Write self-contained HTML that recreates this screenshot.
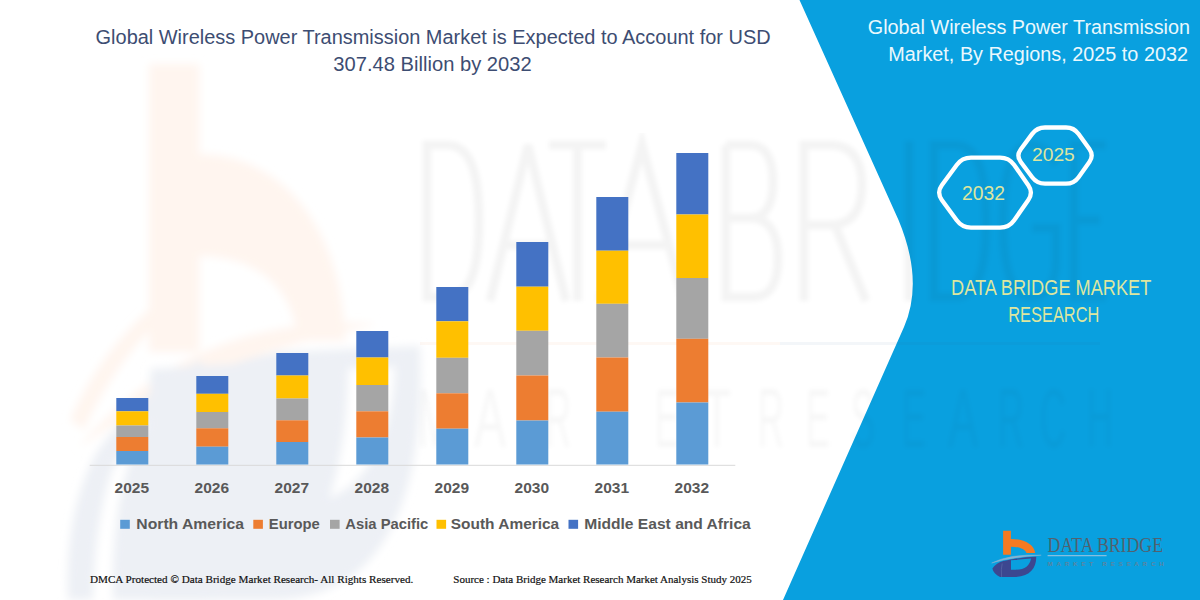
<!DOCTYPE html>
<html><head><meta charset="utf-8">
<style>
html,body{margin:0;padding:0;width:1200px;height:600px;overflow:hidden;background:#fff;}
svg{display:block;}
text{font-family:"Liberation Sans",sans-serif;}
.ser{font-family:"Liberation Serif",serif;}
</style></head><body>
<svg width="1200" height="600" viewBox="0 0 1200 600">
<rect x="0" y="0" width="1200" height="600" fill="#ffffff"/>
<!-- watermark placeholder -->
<g id="wm"><defs><filter id="bl" x="-20%" y="-20%" width="140%" height="140%"><feGaussianBlur stdDeviation="4"/></filter><filter id="bl2" x="-5%" y="-5%" width="110%" height="110%"><feGaussianBlur stdDeviation="2.2"/></filter></defs>
<g filter="url(#bl)"><g transform="matrix(6.0 0 0 11.3 -5867.8 -5930.7)">
<path d="M1002.8 530.5 H1011.2 V538.5 C1025 538.5 1035 545 1035.5 555 L1027.5 555 C1027 550 1020 547.5 1011.2 547.5 V556 H1002.8 Z" fill="#FFF5EF"/>
<path d="M991 564.5 Q1010 552.5 1041 553.5 Q1012 556.5 991 564.5 Z" fill="#FFF5EF"/>
<path fill-rule="evenodd" fill="#EDF0F5" d="M1003 557.5 L1036 556.5 C1036 570 1028 578 1012 578 L1003 578 Z"/>
</g>
<path fill-rule="evenodd" fill="#EDF0F5" d="M113 600 Q110 480 150 420 Q200 365 280 352 L420 346 C425 470 400 600 270 600 Z M238 372 L395 367 C393 440 365 500 300 505 C260 505 238 490 238 470 Z"/>
<path fill="#EDF0F5" d="M68 600 Q64 515 95 455 Q130 400 200 360 L206 372 Q140 420 112 470 Q95 520 93 600 Z"/>
<path fill="#FFF5EF" d="M70 420 Q100 350 160 300 L172 308 Q115 360 84 430 Z"/>
<g></g></g>
</g>
<!-- blue panel -->
<path d="M799.5 0 L1200 0 L1200 600 L783 600 L904 327 Q924 281 898.5 220 Z" fill="#09A0DF"/>
<g fill="none" stroke="#000" stroke-opacity="0.045" stroke-width="9" stroke-linejoin="miter" filter="url(#bl2)">
<path d="M427 145 V297 H447 C472 297 479 265 479 221 C479 177 472 145 447 145 Z"/>
<path d="M490 301 L528 145 L566 301 M503 245 H553"/>
<path d="M549 145 H606 M577.5 145 V301"/>
<path d="M600 301 L642 145 L684 301 M614 245 H670"/>
<path d="M726 145 V297 H752 C770 297 778 285 778 258 C778 232 768 218 750 218 H726 M750 218 C765 218 773 205 773 182 C773 158 765 145 750 145 H726"/>
<path d="M804 301 V145 H830 C852 145 862 160 862 185 C862 210 852 225 830 225 H804 M835 225 L866 301"/>
<path d="M909 141 V301"/>
<path d="M934 145 V297 H955 C980 297 986 265 986 221 C986 177 980 145 955 145 Z"/>
<path d="M1056 165 C1050 150 1040 145 1030 145 C1010 145 1003 180 1003 221 C1003 262 1010 297 1030 297 C1045 297 1056 285 1056 260 V228 H1032"/>
<path d="M1106 145 H1074 V297 H1106 M1074 220 H1100"/>
</g>
<line x1="420" y1="343.5" x2="780" y2="343.5" stroke="#F7A060" stroke-opacity="0.07" stroke-width="3"/>
<line x1="780" y1="343.5" x2="1100" y2="343.5" stroke="#3060A0" stroke-opacity="0.06" stroke-width="3"/>
<g font-size="84" fill="#000" fill-opacity="0.03" filter="url(#bl2)">
<text x="418" y="447" textLength="34" lengthAdjust="spacingAndGlyphs">M</text>
<text x="474" y="447" textLength="32" lengthAdjust="spacingAndGlyphs">A</text>
<text x="545" y="447" textLength="26" lengthAdjust="spacingAndGlyphs">R</text>
<text x="600" y="447" textLength="28" lengthAdjust="spacingAndGlyphs">K</text>
<text x="655" y="447" textLength="24" lengthAdjust="spacingAndGlyphs">E</text>
<text x="703" y="447" textLength="28" lengthAdjust="spacingAndGlyphs">T</text>
<text x="758" y="447" textLength="26" lengthAdjust="spacingAndGlyphs">R</text>
<text x="806" y="447" textLength="24" lengthAdjust="spacingAndGlyphs">E</text>
<text x="851" y="447" textLength="24" lengthAdjust="spacingAndGlyphs">S</text>
<text x="902" y="447" textLength="24" lengthAdjust="spacingAndGlyphs">E</text>
<text x="948" y="447" textLength="30" lengthAdjust="spacingAndGlyphs">A</text>
<text x="998" y="447" textLength="26" lengthAdjust="spacingAndGlyphs">R</text>
<text x="1040" y="447" textLength="26" lengthAdjust="spacingAndGlyphs">C</text>
<text x="1087" y="447" textLength="26" lengthAdjust="spacingAndGlyphs">H</text>
</g>
<!-- title -->
<text x="95.6" y="43.6" font-size="20" fill="#3D4D72" textLength="675" lengthAdjust="spacingAndGlyphs">Global Wireless Power Transmission Market is Expected to Account for USD</text>
<text x="333.3" y="70.8" font-size="20.5" fill="#3D4D72" textLength="198.4" lengthAdjust="spacingAndGlyphs">307.48 Billion by 2032</text>
<!-- axis -->
<line x1="89.7" y1="465.3" x2="735.3" y2="465.3" stroke="#D9D9D9" stroke-width="1"/>
<g id="bars">
<rect x="116.3" y="398" width="32" height="13.3" fill="#4472C4"/>
<rect x="116.3" y="411.3" width="32" height="14.2" fill="#FFC000"/>
<rect x="116.3" y="425.5" width="32" height="11.5" fill="#A5A5A5"/>
<rect x="116.3" y="437" width="32" height="14.0" fill="#ED7D31"/>
<rect x="116.3" y="451" width="32" height="13.5" fill="#5B9BD5"/>
<rect x="196.3" y="376" width="32" height="17.8" fill="#4472C4"/>
<rect x="196.3" y="393.8" width="32" height="18.2" fill="#FFC000"/>
<rect x="196.3" y="412" width="32" height="16.3" fill="#A5A5A5"/>
<rect x="196.3" y="428.3" width="32" height="18.4" fill="#ED7D31"/>
<rect x="196.3" y="446.7" width="32" height="17.8" fill="#5B9BD5"/>
<rect x="276.3" y="353" width="32" height="22.5" fill="#4472C4"/>
<rect x="276.3" y="375.5" width="32" height="23.0" fill="#FFC000"/>
<rect x="276.3" y="398.5" width="32" height="21.8" fill="#A5A5A5"/>
<rect x="276.3" y="420.3" width="32" height="21.7" fill="#ED7D31"/>
<rect x="276.3" y="442" width="32" height="22.5" fill="#5B9BD5"/>
<rect x="356.3" y="331" width="32" height="26.5" fill="#4472C4"/>
<rect x="356.3" y="357.5" width="32" height="27.5" fill="#FFC000"/>
<rect x="356.3" y="385" width="32" height="26.3" fill="#A5A5A5"/>
<rect x="356.3" y="411.3" width="32" height="26.2" fill="#ED7D31"/>
<rect x="356.3" y="437.5" width="32" height="27.0" fill="#5B9BD5"/>
<rect x="436.3" y="287" width="32" height="34.3" fill="#4472C4"/>
<rect x="436.3" y="321.3" width="32" height="36.5" fill="#FFC000"/>
<rect x="436.3" y="357.8" width="32" height="35.5" fill="#A5A5A5"/>
<rect x="436.3" y="393.3" width="32" height="35.4" fill="#ED7D31"/>
<rect x="436.3" y="428.7" width="32" height="35.8" fill="#5B9BD5"/>
<rect x="516.3" y="242" width="32" height="44.7" fill="#4472C4"/>
<rect x="516.3" y="286.7" width="32" height="44.1" fill="#FFC000"/>
<rect x="516.3" y="330.8" width="32" height="44.7" fill="#A5A5A5"/>
<rect x="516.3" y="375.5" width="32" height="45.0" fill="#ED7D31"/>
<rect x="516.3" y="420.5" width="32" height="44.0" fill="#5B9BD5"/>
<rect x="596.3" y="197" width="32" height="53.7" fill="#4472C4"/>
<rect x="596.3" y="250.7" width="32" height="53.1" fill="#FFC000"/>
<rect x="596.3" y="303.8" width="32" height="53.7" fill="#A5A5A5"/>
<rect x="596.3" y="357.5" width="32" height="54.2" fill="#ED7D31"/>
<rect x="596.3" y="411.7" width="32" height="52.8" fill="#5B9BD5"/>
<rect x="676.3" y="153" width="32" height="61.5" fill="#4472C4"/>
<rect x="676.3" y="214.5" width="32" height="63.5" fill="#FFC000"/>
<rect x="676.3" y="278" width="32" height="60.8" fill="#A5A5A5"/>
<rect x="676.3" y="338.8" width="32" height="63.7" fill="#ED7D31"/>
<rect x="676.3" y="402.5" width="32" height="62.0" fill="#5B9BD5"/>
</g>
<!-- year labels -->
<g font-weight="bold" font-size="15.3" fill="#595959">
<text x="114.6" y="493" textLength="34.5" lengthAdjust="spacingAndGlyphs">2025</text>
<text x="194.6" y="493" textLength="34.5" lengthAdjust="spacingAndGlyphs">2026</text>
<text x="274.6" y="493" textLength="34.5" lengthAdjust="spacingAndGlyphs">2027</text>
<text x="354.6" y="493" textLength="34.5" lengthAdjust="spacingAndGlyphs">2028</text>
<text x="434.6" y="493" textLength="34.5" lengthAdjust="spacingAndGlyphs">2029</text>
<text x="514.6" y="493" textLength="34.5" lengthAdjust="spacingAndGlyphs">2030</text>
<text x="594.6" y="493" textLength="34.5" lengthAdjust="spacingAndGlyphs">2031</text>
<text x="674.6" y="493" textLength="34.5" lengthAdjust="spacingAndGlyphs">2032</text>
</g>
<!-- legend -->
<rect x="120.2" y="519.8" width="9.6" height="9" fill="#5B9BD5"/>
<rect x="253.3" y="519.8" width="9.6" height="9" fill="#ED7D31"/>
<rect x="330" y="519.8" width="9.6" height="9" fill="#A5A5A5"/>
<rect x="436.5" y="519.8" width="9.6" height="9" fill="#FFC000"/>
<rect x="568.5" y="519.8" width="9.6" height="9" fill="#4472C4"/>
<g font-weight="bold" font-size="14.8" fill="#595959">
<text x="136.3" y="528.7" textLength="107.8" lengthAdjust="spacingAndGlyphs">North America</text>
<text x="268.8" y="528.7" textLength="51" lengthAdjust="spacingAndGlyphs">Europe</text>
<text x="345.3" y="528.7" textLength="83" lengthAdjust="spacingAndGlyphs">Asia Pacific</text>
<text x="450.8" y="528.7" textLength="108.4" lengthAdjust="spacingAndGlyphs">South America</text>
<text x="584.2" y="528.7" textLength="166.6" lengthAdjust="spacingAndGlyphs">Middle East and Africa</text>
</g>
<!-- footer -->
<text class="ser" x="90" y="582.8" font-size="11.2" fill="#111" stroke="#111" stroke-width="0.2" textLength="323.3" lengthAdjust="spacingAndGlyphs">DMCA Protected © Data Bridge Market Research- All Rights Reserved.</text>
<text class="ser" x="453.3" y="582.8" font-size="11.2" fill="#111" stroke="#111" stroke-width="0.2" textLength="298.4" lengthAdjust="spacingAndGlyphs">Source : Data Bridge Market Research Market Analysis Study 2025</text>
<!-- right title -->
<text x="867.8" y="34.4" font-size="19.6" fill="#EAF8FD" textLength="322.2" lengthAdjust="spacingAndGlyphs">Global Wireless Power Transmission</text>
<text x="888.3" y="61" font-size="19.6" fill="#EAF8FD" textLength="299.7" lengthAdjust="spacingAndGlyphs">Market, By Regions, 2025 to 2032</text>
<!-- hexagons -->
<path d="M1020.8 162.0 Q1016.0 155.6 1020.8 149.2 L1032.2 133.9 Q1037.0 127.5 1045.0 127.5 L1066.0 127.5 Q1074.0 127.5 1078.6 134.0 L1089.4 149.1 Q1094.0 155.6 1089.4 162.1 L1078.6 177.2 Q1074.0 183.7 1066.0 183.7 L1045.0 183.7 Q1037.0 183.7 1032.2 177.3 Z" fill="none" stroke="#ffffff" stroke-width="4.3" stroke-linejoin="round"/>
<path d="M941.8 199.9 Q936.5 192.6 941.8 185.3 L956.7 164.9 Q962.0 157.6 971.0 157.6 L1000.0 157.6 Q1009.0 157.6 1014.2 165.0 L1028.3 185.2 Q1033.5 192.6 1028.3 200.0 L1014.2 220.2 Q1009.0 227.6 1000.0 227.6 L971.0 227.6 Q962.0 227.6 956.7 220.3 Z" fill="none" stroke="#ffffff" stroke-width="4.3" stroke-linejoin="round"/>
<text x="1032" y="161.25" font-size="18.8" fill="#DDE6A0" textLength="42.8" lengthAdjust="spacingAndGlyphs">2025</text>
<text x="962" y="200" font-size="19.3" fill="#DDE6A0" textLength="43" lengthAdjust="spacingAndGlyphs">2032</text>
<!-- DBMR -->
<text x="951" y="294.9" font-size="21.3" fill="#DDE6A0" textLength="200.3" lengthAdjust="spacingAndGlyphs">DATA BRIDGE MARKET</text>
<text x="1008.3" y="321.75" font-size="21.3" fill="#DDE6A0" textLength="91" lengthAdjust="spacingAndGlyphs">RESEARCH</text>
<!-- logo -->
<g id="logo"><path d="M1003.1 530.7 H1010.9 V538.9 C1024 538.9 1034 544 1035.2 553 L1026.5 553 C1025 549 1019 546.7 1010.9 546.7 V554.8 H1003.1 Z" fill="#F47A22"/>
<path d="M991.7 563 Q1010 553.8 1041.2 555.2 Q1012 556.8 991.7 563 Z" fill="#84B3D3" stroke="#84B3D3" stroke-width="0.5"/>
<path fill-rule="evenodd" fill="#3C4790" d="M1003.6 561 Q1020 557.3 1036.2 556.8 C1036.5 568 1030 577 1014 577 L1003.6 577 Z M1011 560.3 L1031 558.4 C1030 565 1025 569.7 1016 569.7 L1011 569.7 Z"/>
<path fill="#3C4790" d="M992.4 568.5 Q996 563 1004 560.8 L1004 577 L1000 577 Q993.5 574 992.4 568.5 Z"/><path d="M1002.2 563.5 Q1000.8 569 1001.6 577" fill="none" stroke="#5A6AA8" stroke-width="0.7"/>
<text class="ser" x="1047.6" y="552.3" font-size="21.5" fill="#52616F" textLength="115.4" lengthAdjust="spacingAndGlyphs">DATA BRIDGE</text>
<line x1="1047.6" y1="555.6" x2="1106.6" y2="555.6" stroke="#86BEDF" stroke-width="1.3"/>
<text x="1047.6" y="566" font-size="6.2" font-weight="bold" fill="#5A84A0" textLength="116" lengthAdjust="spacing">MARKET RESEARCH</text>
</g>
</svg>
</body></html>
